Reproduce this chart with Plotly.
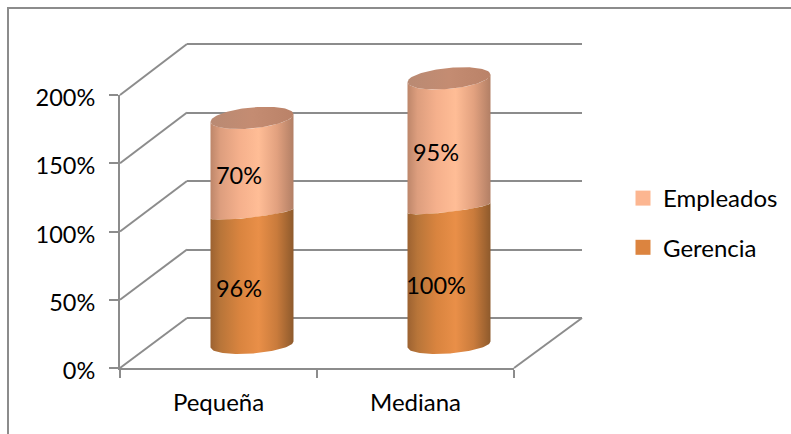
import numpy as np
import plotly.graph_objects as go

categories = ["Pequeña", "Mediana"]
gerencia = [96, 100]
empleados = [70, 95]
y_ticks = [0, 50, 100, 150, 200]
y_labels = ["0%", "50%", "100%", "150%", "200%"]
series_names = ["Empleados", "Gerencia"]
series_colors = ["#fcb691", "#dc843f"]

W, H = 791, 434
GRAY = "#8c8c8c"
FONT = "Lato"
TXT = "#000000"
FS = 24
NUM_FS = 23.5

# plot planes in pixels: (left, right, top, bottom)
front = (120, 514, 95, 368)
mid = (153.5, 547.5, 71.5, 344.5)
back = (187, 582, 44, 318)
PX = (front[1] - front[0]) / 2
PY = (front[3] - front[2]) / 200
A = 41.5
PAD = 2   # wall range extends past 0 and 200 so that their grid lines are kept
CPAD = 20  # cylinder range extends past 0 and 200 so that the end caps are not clipped
BPY = (back[3] - back[2]) / 200
wall = (back[0], back[1], back[2] - PAD * BPY, back[3] + PAD * BPY)
cyl = (mid[0], mid[1], mid[2] - CPAD * PY, mid[3] + CPAD * PY)


def dx_(p):
    return [p[0] / W, p[1] / W]


def dy_(p):
    return [1 - p[3] / H, 1 - p[2] / H]


def fx(x):
    return x / W


def fy(y):
    return 1 - y / H


def arc(cx, v, tilt, sag, reverse=False):
    d = np.linspace(-A, A, 61)
    off = tilt * d + sag * np.sqrt(np.clip(1 - (d / A) ** 2, 0, 1))
    xs, ys = cx + d / PX, v - off / PY
    if reverse:
        xs, ys = xs[::-1], ys[::-1]
    return list(xs), list(ys)


def body(i, v0, v1, tilt0, sag0, tilt1, sag1, scale):
    x0, y0 = arc(i, v0, tilt0, sag0)
    x1, y1 = arc(i, v1, tilt1, sag1, reverse=True)
    return go.Scatter(
        x=x0 + x1, y=y0 + y1, xaxis="x3", yaxis="y3", mode="lines",
        line=dict(width=0), fill="toself", showlegend=False, hoverinfo="skip",
        fillcolor="rgba(0,0,0,0)",
        fillgradient=dict(type="horizontal", colorscale=scale),
    )


dark_scale = [[0, "#9c6231"], [0.12, "#b87539"], [0.35, "#d9843f"], [0.58, "#e98f48"],
              [0.8, "#c97b3c"], [1, "#8e5a2c"]]
light_scale = [[0, "#bd866a"], [0.12, "#dd9e7e"], [0.35, "#f5b08c"], [0.58, "#ffbd96"],
               [0.8, "#e2a17f"], [1, "#b27f65"]]
top_scale = [[0, "#b98a73"], [0.5, "#c48c72"], [1, "#ba8268"]]

fig = go.Figure()

# wall, front plane and cylinder plane
fig.add_trace(go.Scatter(x=[0], y=[None], xaxis="x", yaxis="y", showlegend=False, hoverinfo="skip"))
fig.add_trace(go.Scatter(x=categories, y=[None, None], xaxis="x2", yaxis="y2", showlegend=False, hoverinfo="skip"))

for i in range(len(categories)):
    g, e = gerencia[i], empleados[i]
    total = g + e
    fig.add_trace(body(i, g, total, -0.12, 4, -0.09, 10.5, light_scale))
    fig.add_trace(body(i, 0, g, -0.07, 9, -0.12, 4, dark_scale))
    xa, ya = arc(i, total, -0.09, 10.5)
    xb, yb = arc(i, total, -0.09, -10.5, reverse=True)
    fig.add_trace(go.Scatter(
        x=xa + xb, y=ya + yb, xaxis="x3", yaxis="y3", mode="lines", line=dict(width=0),
        fill="toself", fillcolor="rgba(0,0,0,0)", showlegend=False, hoverinfo="skip",
        fillgradient=dict(type="horizontal", colorscale=top_scale),
    ))

# data labels
lab_dx, lab_dy = -13 / PX, -12 / PY
lx, ly, lt = [], [], []
for i in range(len(categories)):
    g, e = gerencia[i], empleados[i]
    lx += [i + lab_dx, i + lab_dx]
    ly += [g / 2 + lab_dy, g + e / 2 + lab_dy]
    lt += [f"{g}%", f"{e}%"]
fig.add_trace(go.Scatter(x=lx, y=ly, text=lt, mode="text", xaxis="x3", yaxis="y3",
                         textfont=dict(family=FONT, size=NUM_FS, color=TXT),
                         textposition="middle center", showlegend=False, hoverinfo="skip"))

# legend entries
for name, col in zip(series_names, series_colors):
    fig.add_trace(go.Scatter(x=[None], y=[None], name=name, mode="markers", legendgroup=name,
                             marker=dict(symbol="square", size=15, color=col), xaxis="x3", yaxis="y3"))

# perspective edges of wall and floor
shapes = [dict(type="rect", xref="paper", yref="paper", x0=fx(8), x1=fx(W + 20), y0=fy(H + 20), y1=fy(8),
               line=dict(color=GRAY, width=2), layer="below")]
for v in y_ticks:
    yf = front[3] - v * PY
    yb = back[3] - v * BPY
    shapes.append(dict(type="line", xref="paper", yref="paper", x0=fx(front[0]), x1=fx(back[0]),
                       y0=fy(yf), y1=fy(yb), line=dict(color=GRAY, width=2), layer="below"))
shapes.append(dict(type="line", xref="paper", yref="paper", x0=fx(front[1]), x1=fx(back[1]),
                   y0=fy(front[3]), y1=fy(back[3]), line=dict(color=GRAY, width=2), layer="below"))

hidden = dict(showgrid=False, zeroline=False, showticklabels=False, ticks="", showline=False, automargin=False)
fig.update_layout(
    width=W, height=H, margin=dict(l=0, r=0, t=0, b=0, autoexpand=False),
    paper_bgcolor="white", plot_bgcolor="rgba(0,0,0,0)",
    shapes=shapes, hovermode=False,
    font=dict(family=FONT, size=FS, color=TXT),
    xaxis=dict(domain=dx_(wall), range=[-0.5, 1.5], anchor="y", **hidden),
    yaxis=dict(domain=dy_(wall), range=[-PAD, 200 + PAD], anchor="x", tickvals=y_ticks, showgrid=True, automargin=False,
               gridcolor=GRAY, gridwidth=2, zeroline=False, showticklabels=False, ticks="", showline=False),
    xaxis2=dict(domain=dx_(front), type="category", categoryorder="array", categoryarray=categories, automargin=False,
                range=[-0.5, 1.5], anchor="y2", showgrid=False, zeroline=False, tickson="boundaries",
                ticks="outside", ticklen=8, tickwidth=2, tickcolor=GRAY, showline=True, ticklabelstandoff=12,
                linecolor=GRAY, linewidth=2, tickfont=dict(family=FONT, size=FS, color=TXT)),
    yaxis2=dict(domain=dy_(front), range=[0, 200], anchor="x2", tickvals=y_ticks, ticktext=y_labels, automargin=False,
                showgrid=False, zeroline=False, ticks="outside", ticklen=9, tickwidth=2, tickcolor=GRAY,
                ticklabelstandoff=9, ticklabelshift=3,
                showline=True, linecolor=GRAY, linewidth=2, tickfont=dict(family=FONT, size=NUM_FS, color=TXT)),
    xaxis3=dict(domain=dx_(cyl), range=[-0.5, 1.5], anchor="y3", **hidden),
    yaxis3=dict(domain=dy_(cyl), range=[-CPAD, 200 + CPAD], anchor="x3", **hidden),
    legend=dict(x=fx(623), y=fy(176), xanchor="left", yanchor="top", traceorder="grouped",
                tracegroupgap=15, itemsizing="trace", font=dict(family=FONT, size=24, color=TXT),
                bgcolor="rgba(0,0,0,0)"),
)

fig.write_html("out.html", config={"displayModeBar": False},
               post_script="document.body.style.margin='0';document.body.style.overflow='hidden';")
